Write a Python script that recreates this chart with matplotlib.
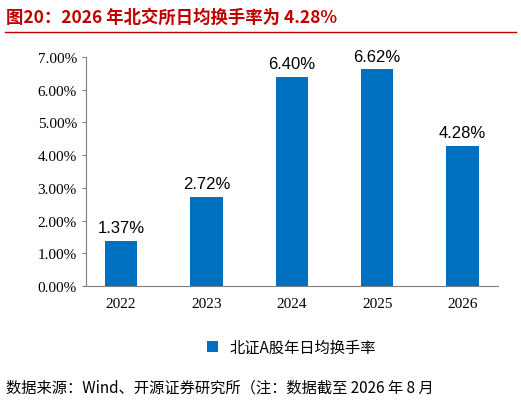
import matplotlib.pyplot as plt
from matplotlib.ticker import FuncFormatter

plt.rcParams['font.family'] = ['Noto Sans CJK SC', 'DejaVu Sans']

years = ["2022", "2023", "2024", "2025", "2026"]
turnover = [1.37, 2.72, 6.40, 6.62, 4.28]
BLUE = "#0070C0"

fig = plt.figure(figsize=(5.21, 4.06), dpi=100)
ax = fig.add_axes([0.165, 0.293, 0.79, 0.564])
bars = ax.bar(years, turnover, width=0.38, color=BLUE, label="北证A股年日均换手率")
for b, v in zip(bars, turnover):
    ax.text(b.get_x() + b.get_width() / 2, v + 0.18, f"{v:.2f}%",
            ha="center", va="bottom", fontsize=12, family="Liberation Sans")
ax.set_ylim(0, 7)
ax.set_yticks([i for i in range(8)])
ax.yaxis.set_major_formatter(FuncFormatter(lambda x, p: f"{x:.2f}%"))
for lab in ax.get_xticklabels() + ax.get_yticklabels():
    lab.set_family("Liberation Serif")
    lab.set_fontsize(11)
ax.spines["top"].set_visible(False)
ax.spines["right"].set_visible(False)
ax.spines["left"].set_color("#808080")
ax.spines["bottom"].set_color("#808080")
ax.tick_params(axis="x", length=0, pad=8)
ax.tick_params(axis="y", length=3, color="#808080")
ax.legend(loc="upper center", bbox_to_anchor=(0.5, -0.17), frameon=False,
          fontsize=11, handlelength=0.7, handleheight=0.7)

fig.text(0.012, 0.955, "图20：2026 年北交所日均换手率为 4.28%", fontsize=12.5,
         fontweight="bold", color="#C00000", va="center")
fig.add_artist(plt.Line2D([0.01, 0.99], [0.918, 0.918], color="#C00000", lw=1))
fig.text(0.012, 0.045, "数据来源：Wind、开源证券研究所（注：数据截至 2026 年 8 月",
         fontsize=11, va="center")

fig.savefig("out.png")
